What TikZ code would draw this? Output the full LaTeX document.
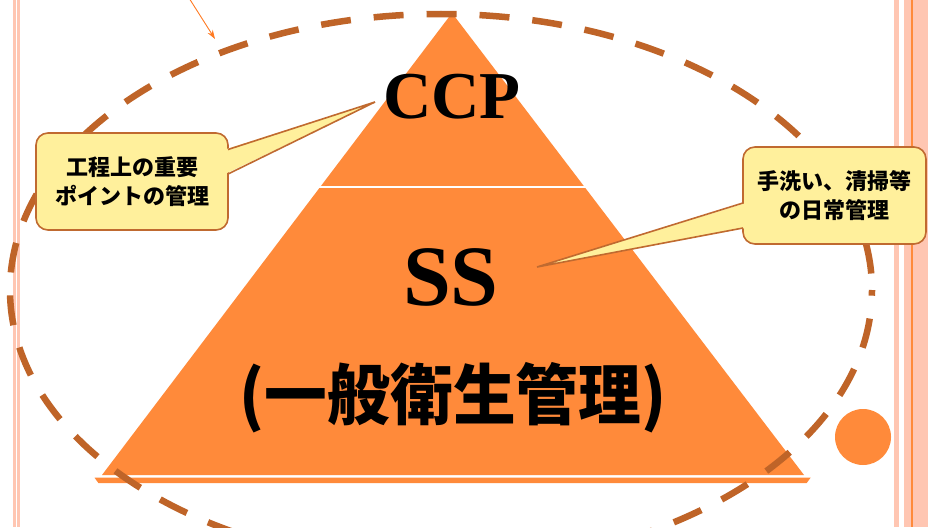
\documentclass[tikz,border=0pt]{standalone}
\usepackage{fontspec}
\usetikzlibrary{arrows.meta}
\newfontfamily\serifb{Liberation Serif}
\newfontfamily\cjk{Noto Sans CJK JP}
\definecolor{pyr}{HTML}{FF8A3A}
\definecolor{ellc}{HTML}{BF6428}
\definecolor{callfill}{HTML}{FFF09C}
\definecolor{callborder}{HTML}{C06A30}
\definecolor{stripe}{HTML}{FFC6B2}
\definecolor{arrowc}{HTML}{FF7A22}
\tikzset{
  callbox/.style={draw=callborder, fill=callfill, line width=1.6pt, rounded corners=12pt,
    align=center, inner sep=0pt, text=black,
    font=\cjk\bfseries\fontsize{22}{29}\selectfont},
  wedgefill/.style={fill=callfill},
  wedgeline/.style={draw=callborder, line width=1.6pt},
  bigserif/.style={inner sep=0pt, anchor=base, text=black},
  dashedell/.style={draw=ellc, line width=6.5pt, dash pattern=on 30pt off 23pt, dash phase=36.5pt},
}
\begin{document}
\begin{tikzpicture}[x=1pt,y=-1pt]
\useasboundingbox (0,0) rectangle (928,527);
\fill[white] (0,0) rectangle (928,527);
% side stripes
\fill[stripe] (13,0) rectangle (19.5,527);
\fill[white] (15.8,0) rectangle (16.8,527);
\fill[stripe] (894,0) rectangle (899,527);
\fill[stripe] (904,0) rectangle (928,527);
\fill[pyr] (910.5,0) rectangle (912.5,527);
% pyramid
\fill[pyr] (452,13) -- (804,475) -- (102,475) -- cycle;
\fill[white] (300,185.7) rectangle (600,188.3);
\fill[pyr] (94.5,477.7) -- (810.6,477.7) -- (806.7,483) -- (98.4,483) -- cycle;
% circle
\fill[pyr] (863,437) circle[radius=28pt];
% texts on pyramid
\node[bigserif, font=\serifb\bfseries\fontsize{67}{67}\selectfont] (ccp) at (452,118) {CCP};
\node[bigserif, font=\serifb\bfseries\fontsize{86}{86}\selectfont] (ss) at (451,305) {SS};
\node[inner sep=0pt, text=black, xscale=0.95, font=\cjk\bfseries\fontsize{66}{66}\selectfont] (gen) at (453,398) {(一般衛生管理)};
% dashed ellipse
\coordinate (ec) at (441,290);
\draw[dashedell] (ec) ellipse [x radius=431pt, y radius=276pt];
% left callout
\node[callbox, minimum width=192pt, minimum height=97pt] (lbox) at (132,181.5) {工程上の重要\\ポイントの管理};
\coordinate (ltip) at (375,102);
\fill[wedgefill] (225,149.5) -- (ltip) -- (225,174) -- cycle;
\draw[wedgeline] (228,149.5) -- (ltip) -- (228,174);
% right callout
\node[callbox, minimum width=183pt, minimum height=97pt] (rbox) at (834.5,195.5) {手洗い、清掃等\\の日常管理};
\coordinate (rtip) at (537,267);
\fill[wedgefill] (746,203) -- (rtip) -- (746,228) -- cycle;
\draw[wedgeline] (743,203) -- (rtip) -- (743,228);
% small arrow at top
\coordinate (a0) at (189,-2);
\coordinate (a1) at (215,39);
\draw[arrowc, line width=0.9pt, -{Stealth[length=9pt,width=6pt]}] (a0) -- (a1);
\end{tikzpicture}
\end{document}
